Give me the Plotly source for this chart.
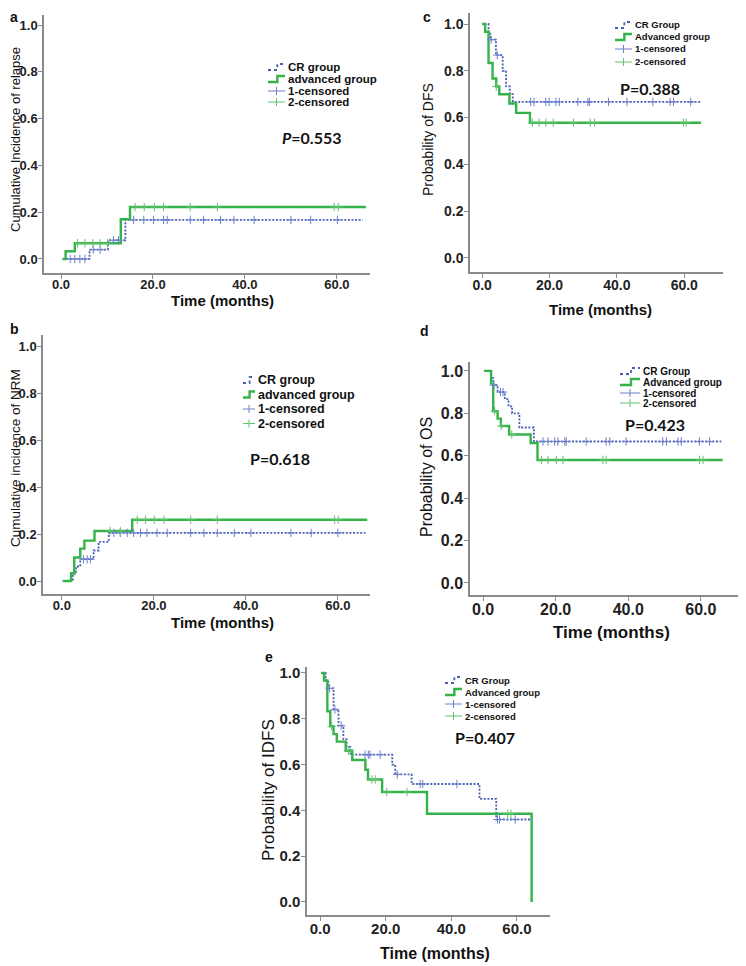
import plotly.graph_objects as go

# the page puts the figure 8px in from the window's top-left corner
OFF = 8
W, H = 746 - OFF, 966 - OFF

BLUE = '#4a5fb6'
GREEN = '#36b24a'
BLUE_C = '#6d80cc'
GREEN_C = '#5fc46c'
AXIS = '#8a8a8a'
FONT = 'Liberation Sans, Arial, sans-serif'
PFONT = 'Lato, Open Sans, sans-serif'

# a: cumulative incidence of relapse
a_cr_t = [1.2, 6.2, 10.2, 14.0, 65.6]
a_cr_y = [0.0, 0.04, 0.08, 0.167, 0.167]
a_adv_t = [0.3, 1.0, 3.0, 13.0, 15.0, 66.3]
a_adv_y = [0.0, 0.033, 0.067, 0.17, 0.222, 0.222]
a_cr_cens = [2.0, 3.0, 4.1, 5.2, 7.0, 8.5, 11.4, 12.5, 15.8, 18.0, 20.1, 22.3, 23.1, 28.1,
             31.0, 34.7, 37.6, 42.0, 50.0, 54.3, 60.1]
a_adv_cens = [3.6, 5.2, 6.9, 8.5, 10.1, 16.1, 18.1, 20.3, 22.3, 28.1, 34.0, 59.4, 60.3]

# b: cumulative incidence of NRM
b_cr_t = [0.2, 2.4, 3.1, 4.0, 6.9, 8.0, 10.2, 66.0]
b_cr_y = [0.0, 0.031, 0.062, 0.093, 0.13, 0.167, 0.205, 0.205]
b_adv_t = [0.2, 2.0, 2.7, 4.0, 4.9, 7.1, 15.3, 66.4]
b_adv_y = [0.0, 0.034, 0.10, 0.138, 0.172, 0.213, 0.261, 0.261]
b_cr_cens = [4.7, 5.5, 6.2, 11.3, 12.7, 14.2, 15.6, 17.1, 18.5, 20.7, 22.9, 28.0, 30.9, 33.8,
             37.5, 41.1, 49.8, 54.2, 60.0]
b_adv_cens = [10.5, 12.7, 16.4, 18.2, 20.1, 22.2, 28.0, 33.8, 59.3, 60.1]

# c: DFS
c_cr_t = [0.7, 1.9, 2.4, 4.1, 6.1, 7.1, 8.2, 9.1, 65.0]
c_cr_y = [1.0, 0.967, 0.933, 0.867, 0.80, 0.733, 0.70, 0.667, 0.667]
c_adv_t = [0.0, 0.9, 1.9, 3.1, 4.2, 5.1, 8.1, 10.1, 14.2, 65.0]
c_adv_y = [1.0, 0.967, 0.833, 0.767, 0.733, 0.70, 0.66, 0.62, 0.578, 0.578]
c_cr_cens = [2.7, 4.5, 14.4, 15.4, 18.9, 19.9, 21.9, 22.9, 28.4, 31.4, 31.9, 37.5, 43.0,
             50.7, 55.8, 56.8, 61.9]
c_adv_cens = [4.2, 14.9, 16.9, 18.9, 21.1, 27.1, 32.1, 33.4, 59.8, 60.6]

# d: OS
d_cr_t = [0.3, 2.2, 2.8, 4.0, 6.0, 7.0, 8.0, 10.0, 14.0, 65.6]
d_cr_y = [1.0, 0.967, 0.933, 0.90, 0.867, 0.833, 0.80, 0.733, 0.667, 0.667]
d_adv_t = [0.3, 2.2, 2.8, 4.0, 4.9, 7.2, 13.1, 15.0, 66.0]
d_adv_y = [1.0, 0.94, 0.81, 0.775, 0.74, 0.70, 0.66, 0.58, 0.58]
d_cr_cens = [3.0, 4.8, 5.5, 16.5, 17.9, 19.7, 20.6, 22.5, 22.9, 28.4, 33.9, 34.9, 39.4,
             49.5, 50.5, 53.7, 54.6, 59.6, 62.4]
d_adv_cens = [3.2, 5.0, 7.9, 16.1, 17.9, 20.2, 22.0, 33.0, 33.9, 59.6, 60.6]

# e: IDFS
e_cr_t = [0.5, 1.7, 2.5, 4.1, 5.6, 7.1, 8.1, 9.2, 22.0, 22.9, 27.9, 48.6, 53.7, 64.6]
e_cr_y = [1.0, 0.967, 0.933, 0.84, 0.77, 0.71, 0.677, 0.643, 0.60, 0.557, 0.515, 0.45, 0.36, 0.36]
e_adv_t = [0.3, 1.2, 2.2, 3.1, 4.1, 5.1, 7.8, 9.8, 13.8, 14.6, 18.9, 32.6, 64.5]
e_adv_y = [1.0, 0.967, 0.833, 0.767, 0.733, 0.70, 0.66, 0.62, 0.577, 0.535, 0.48, 0.385, 0.0]
e_cr_cens = [2.9, 4.5, 6.4, 13.7, 14.7, 15.2, 18.3, 23.5, 30.5, 31.3, 41.7, 54.1, 54.7, 59.5]
e_adv_cens = [3.5, 8.6, 15.8, 16.8, 20.3, 26.5, 57.2, 58.2]

x_ticks = [0, 20, 40, 60]
y_ticks = [0.0, 0.2, 0.4, 0.6, 0.8, 1.0]
legend_lower = ['CR group', 'advanced group', '1-censored', '2-censored']
legend_upper = ['CR Group', 'Advanced group', '1-censored', '2-censored']


def X(px):
    return (px - OFF) / W


def Y(py):
    return 1 - (py - OFF) / H


def step_at(ts, ys, t):
    v = ys[0]
    for ti, yi in zip(ts, ys):
        if ti <= t:
            v = yi
    return v


# window-pixel boxes of each plot area: (left, right, top, bottom), plus ranges
panels = [
    dict(id='', box=(44, 370, 15, 273), xr=[-3.7, 67.2], yr=[-0.06, 1.043], tick=13,
         data=(a_cr_t, a_cr_y, a_adv_t, a_adv_y, a_cr_cens, a_adv_cens)),
    dict(id='2', box=(43, 370, 335, 594), xr=[-4.1, 67.0], yr=[-0.055, 1.047], tick=13,
         data=(b_cr_t, b_cr_y, b_adv_t, b_adv_y, b_cr_cens, b_adv_cens)),
    dict(id='3', box=(470, 723, 13, 272), xr=[-3.6, 71.5], yr=[-0.06, 1.047], tick=14,
         data=(c_cr_t, c_cr_y, c_adv_t, c_adv_y, c_cr_cens, c_adv_cens)),
    dict(id='4', box=(470, 743, 362, 595), xr=[-3.6, 71.6], yr=[-0.057, 1.042], tick=16,
         data=(d_cr_t, d_cr_y, d_adv_t, d_adv_y, d_cr_cens, d_adv_cens)),
    dict(id='5', box=(307, 550, 667, 915), xr=[-4.0, 70.1], yr=[-0.057, 1.026], tick=15,
         data=(e_cr_t, e_cr_y, e_adv_t, e_adv_y, e_cr_cens, e_adv_cens)),
]

fig = go.Figure()
layout = {}

for p in panels:
    i = p['id']
    l, r, t, b = p['box']
    cr_t, cr_y, adv_t, adv_y, cr_c, adv_c = p['data']
    xa, ya = 'x' + i, 'y' + i

    fig.add_trace(go.Scatter(x=cr_t, y=cr_y, mode='lines', line_shape='hv', xaxis=xa, yaxis=ya,
                             line=dict(color=BLUE, width=1.8, dash='2px,1.6px')))
    fig.add_trace(go.Scatter(x=adv_t, y=adv_y, mode='lines', line_shape='hv', xaxis=xa, yaxis=ya,
                             line=dict(color=GREEN, width=2.4)))
    fig.add_trace(go.Scatter(x=cr_c, y=[step_at(cr_t, cr_y, v) for v in cr_c], mode='markers',
                             xaxis=xa, yaxis=ya,
                             marker=dict(symbol='cross-thin', size=6, line=dict(width=1, color=BLUE_C))))
    fig.add_trace(go.Scatter(x=adv_c, y=[step_at(adv_t, adv_y, v) for v in adv_c], mode='markers',
                             xaxis=xa, yaxis=ya,
                             marker=dict(symbol='cross-thin', size=6, line=dict(width=1, color=GREEN_C))))

    common = dict(showline=True, linecolor=AXIS, linewidth=1.5, ticks='outside', ticklen=4,
                  tickcolor=AXIS, tickwidth=1, showgrid=False, zeroline=False, tickformat='.1f',
                  automargin=False,
                  tickfont=dict(family=FONT, size=p['tick'], color='#222', weight='bold'))
    layout['xaxis' + i] = dict(domain=[X(l), X(r)], range=p['xr'], anchor=ya, tickvals=x_ticks,
                               ticklabelstandoff=-5, **common)
    layout['yaxis' + i] = dict(domain=[Y(b), Y(t)], range=p['yr'], anchor=xa, tickvals=y_ticks,
                               ticklabelstandoff=-2, **common)

fig.update_layout(**layout)

shapes = []
annotations = []


def path(points):
    return 'M ' + ' L '.join(f'{X(a):.5f},{Y(b):.5f}' for a, b in points)


def add_legend(gx0, gx1, tx, rows, fsize, labels):
    w = gx1 - gx0
    for k, (ry, lab) in enumerate(zip(rows, labels)):
        if k < 2:
            pts = [(gx0, ry + 3), (gx0 + 0.55 * w, ry + 3), (gx0 + 0.55 * w, ry - 3), (gx1, ry - 3)]
            line = dict(color=BLUE, width=1.8, dash='dot') if k == 0 else dict(color=GREEN, width=2.4)
            shapes.append(dict(type='path', xref='paper', yref='paper', path=path(pts), line=line))
        else:
            col = BLUE_C if k == 2 else GREEN_C
            shapes.append(dict(type='line', xref='paper', yref='paper', x0=X(gx0), x1=X(gx1),
                               y0=Y(ry), y1=Y(ry), line=dict(color=col, width=1)))
            mx = gx0 + 0.5 * w
            shapes.append(dict(type='line', xref='paper', yref='paper', x0=X(mx), x1=X(mx),
                               y0=Y(ry - 4), y1=Y(ry + 4), line=dict(color=col, width=1)))
        annotations.append(dict(text=lab, x=X(tx), y=Y(ry), xref='paper', yref='paper',
                                xanchor='left', yanchor='middle', showarrow=False,
                                font=dict(family=FONT, size=fsize, color='#111', weight='bold')))


add_legend(268, 285, 286, [67, 79, 91, 102], 11.5, legend_lower)
add_legend(243, 255, 256, [380, 394.5, 409, 423.5], 12.5, legend_lower)
add_legend(615, 632, 633, [25, 37, 49, 62], 9.5, legend_upper)
add_legend(620, 640, 641, [371, 382, 393, 403], 10, legend_upper)
add_legend(445, 462, 463, [680, 692, 704, 716], 9.5, legend_upper)


def text(s, px, py, size, bold=False, angle=0, family=FONT, xanchor='center'):
    annotations.append(dict(text=s, x=X(px), y=Y(py), xref='paper', yref='paper',
                            xanchor=xanchor, yanchor='middle', showarrow=False, textangle=angle,
                            font=dict(family=family, size=size, color='#111',
                                      weight='bold' if bold else 'normal')))


# p values
text('<i>P</i>=0.553', 312, 137, 16, True, family=PFONT)
text('P=0.618', 280, 458, 16, True, family=PFONT)
text('P=0.388', 650, 88, 16, True, family=PFONT)
text('P=0.423', 655, 424, 16, True, family=PFONT)
text('P=0.407', 485, 737, 16, True, family=PFONT)

# y titles
text('Cumulative Incidence of relapse', 15, 140, 13, angle=-90)
text('Cumulative incidence of NRM', 15, 458, 13.5, angle=-90)
text('Probability of DFS', 428, 140, 14, angle=-90)
text('Probability of OS', 426, 477, 16, angle=-90)
text('Probability of IDFS', 268, 790, 17, angle=-90)

# x titles
text('Time (months)', 223, 300, 15, True)
text('Time (months)', 223, 622, 15, True)
text('Time (months)', 600, 310, 15, True)
text('Time (months)', 611, 632, 17, True)
text('Time (months)', 435, 953, 16, True)

# panel letters
text('a', 8, 17, 14, True, xanchor='left')
text('b', 8, 329, 14, True, xanchor='left')
text('c', 421, 17, 14, True, xanchor='left')
text('d', 418, 331, 14, True, xanchor='left')
text('e', 263, 657, 14, True, xanchor='left')

fig.update_layout(width=W, height=H, margin=dict(l=0, r=0, t=0, b=0), showlegend=False,
                  plot_bgcolor='white', paper_bgcolor='white',
                  shapes=shapes, annotations=annotations)

fig.write_html("out.html")
